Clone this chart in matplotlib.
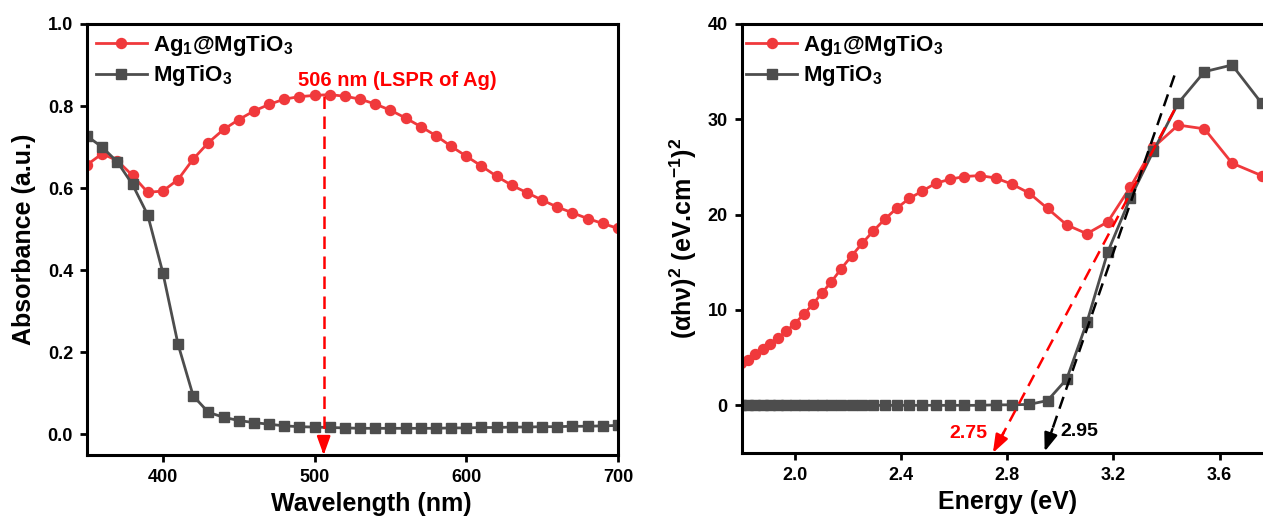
import numpy as np
import matplotlib
matplotlib.use("Agg")
import matplotlib.pyplot as plt

plt.rcParams['font.family'] = ['Liberation Sans', 'DejaVu Sans']
plt.rcParams['font.weight'] = 'bold'
plt.rcParams['axes.labelweight'] = 'bold'
plt.rcParams['mathtext.fontset'] = 'custom'
plt.rcParams['mathtext.rm'] = 'Liberation Sans:bold'
plt.rcParams['mathtext.it'] = 'Liberation Sans:bold'
plt.rcParams['mathtext.bf'] = 'Liberation Sans:bold'

# ---- data: UV-vis absorbance ----
wavelength = np.arange(350, 701, 10)
abs_ag = [0.657, 0.684, 0.667, 0.631, 0.590, 0.593, 0.621, 0.671, 0.711, 0.743,
          0.767, 0.788, 0.804, 0.817, 0.823, 0.826, 0.828, 0.824, 0.817, 0.805,
          0.790, 0.771, 0.750, 0.728, 0.702, 0.678, 0.654, 0.629, 0.607, 0.589,
          0.571, 0.554, 0.540, 0.526, 0.514, 0.502]
abs_mto = [0.727, 0.700, 0.664, 0.609, 0.535, 0.394, 0.220, 0.094, 0.054, 0.042,
           0.034, 0.029, 0.025, 0.021, 0.019, 0.018, 0.017, 0.016, 0.015, 0.015,
           0.015, 0.015, 0.015, 0.015, 0.016, 0.016, 0.017, 0.017, 0.018, 0.018,
           0.019, 0.019, 0.020, 0.020, 0.021, 0.022]

# ---- data: Tauc plot ----
energy = [1.771, 1.797, 1.823, 1.851, 1.879, 1.908, 1.938, 1.968, 2.000, 2.033,
          2.067, 2.101, 2.138, 2.175, 2.214, 2.254, 2.296, 2.339, 2.385, 2.431,
          2.480, 2.531, 2.583, 2.638, 2.696, 2.756, 2.818, 2.883, 2.952, 3.024,
          3.100, 3.179, 3.263, 3.351, 3.444, 3.543, 3.647, 3.758]
tauc_ag = [4.1, 4.45, 4.72, 5.42, 5.95, 6.47, 7.07, 7.77, 8.58, 9.53,
           10.58, 11.74, 12.97, 14.34, 15.67, 17.0, 18.3, 19.53, 20.7, 21.7,
           22.47, 23.3, 23.7, 24.0, 24.1, 23.85, 23.2, 22.26, 20.65, 18.93,
           18.0, 19.25, 22.86, 27.07, 29.4, 29.0, 25.4, 24.1]
tauc_mto = [0.0, 0.0, 0.0, 0.0, 0.0, 0.0, 0.0, 0.0, 0.0, 0.0,
            0.0, 0.0, 0.0, 0.0, 0.0, 0.0, 0.0, 0.0, 0.0, 0.0,
            0.0, 0.0, 0.0, 0.0, 0.0, 0.05, 0.05, 0.1, 0.5, 2.75,
            8.7, 16.1, 21.7, 26.7, 31.7, 35.0, 35.7, 31.7]

lspr_nm = 506
fit_ag = [(3.43, 31.0), (2.746, -5.0)]
fit_mto = [(3.43, 34.6), (2.941, -4.85)]

labels = [r'Ag$_{1}$@MgTiO$_{3}$', r'MgTiO$_{3}$']
RED = '#F0393C'
GRAY = '#4D4D4D'

fig = plt.figure(figsize=(12.63, 5.20), dpi=100)
ax1 = fig.add_axes([87/1263, 65/520, 531/1263, 431/520])
ax2 = fig.add_axes([741.7/1263, 67/520, 531/1263, 429/520])

def style(ax):
    for s in ax.spines.values():
        s.set_linewidth(2.2)
    ax.tick_params(direction='out', length=5, width=2.0, labelsize=13, pad=5)
    for lab in ax.get_xticklabels() + ax.get_yticklabels():
        lab.set_fontweight('bold')

def arrow_head(ax, tip, top, color):
    tip = np.array(tip); top = np.array(top)
    start = tip + 0.06 * (top - tip)
    ax.annotate('', xy=tip, xytext=start, annotation_clip=False,
                arrowprops=dict(arrowstyle='-|>,head_length=0.55,head_width=0.2',
                                color=color, lw=1.8, mutation_scale=20,
                                shrinkA=0, shrinkB=0))

# ---- left: absorbance ----
ax1.plot(wavelength, abs_ag, '-o', color=RED, lw=2.0, ms=7.2, label=labels[0])
ax1.plot(wavelength, abs_mto, '-s', color=GRAY, lw=2.0, ms=6.5, label=labels[1])
ax1.set_xlim(350, 700)
ax1.set_ylim(-0.05, 1.0)
ax1.set_xticks([400, 500, 600, 700])
ax1.set_yticks([0.0, 0.2, 0.4, 0.6, 0.8, 1.0])
ax1.set_yticklabels(['0.0', '0.2', '0.4', '0.6', '0.8', '1.0'])
ax1.plot([lspr_nm, lspr_nm], [0.825, -0.035], color='#FF0000', lw=1.8,
         linestyle=(0, (5, 3)))
arrow_head(ax1, (lspr_nm, -0.05), (lspr_nm, 0.2), '#FF0000')
ax1.text(554.6, 0.863, '506 nm (LSPR of Ag)', color='#FF0000', fontsize=14.5,
         fontweight='bold', ha='center', va='center')
ax1.set_xlabel('Wavelength (nm)', fontsize=18)
ax1.set_ylabel('Absorbance (a.u.)', fontsize=18)
ax1.xaxis.set_label_coords(0.536, -0.086)
ax1.yaxis.set_label_coords(-0.096, 0.5)
ax1.legend(loc='upper left', bbox_to_anchor=(0.0, 1.0), frameon=False,
           fontsize=16, borderaxespad=0, borderpad=0.4, handlelength=2.3,
           handletextpad=0.26, labelspacing=0.25)
style(ax1)

# ---- right: Tauc plot ----
ax2.plot(energy, tauc_ag, '-o', color=RED, lw=2.0, ms=7.2, label=labels[0])
ax2.plot(energy, tauc_mto, '-s', color=GRAY, lw=2.0, ms=6.5, label=labels[1])
for (p_top, p_tip), c in [(fit_ag, '#FF0000'), (fit_mto, 'black')]:
    tip = np.array(p_tip); top = np.array(p_top)
    end = tip + 0.05 * (top - tip)
    ax2.plot([top[0], end[0]], [top[1], end[1]], color=c, lw=1.8,
             linestyle=(0, (5, 3)), zorder=4, clip_on=False)
    arrow_head(ax2, p_tip, p_top, c)
ax2.text(2.655, -3.0, '2.75', color='#FF0000', fontsize=14, fontweight='bold',
         ha='center', va='center')
ax2.text(3.073, -2.75, '2.95', color='black', fontsize=14, fontweight='bold',
         ha='center', va='center')
ax2.set_xlim(1.8, 3.8)
ax2.set_ylim(-5, 40)
ax2.set_xticks([2.0, 2.4, 2.8, 3.2, 3.6])
ax2.set_yticks([0, 10, 20, 30, 40])
ax2.set_xlabel('Energy (eV)', fontsize=18)
ax2.set_ylabel(r'(αhν)$^{2}$ (eV.cm$^{-1}$)$^{2}$', fontsize=18)
ax2.xaxis.set_label_coords(0.5, -0.086)
ax2.yaxis.set_label_coords(-0.080, 0.5)
ax2.legend(loc='upper left', bbox_to_anchor=(-0.008, 1.0), frameon=False,
           fontsize=16, borderaxespad=0, borderpad=0.4, handlelength=2.3,
           handletextpad=0.26, labelspacing=0.25)
style(ax2)

fig.savefig('out.png', dpi=100)
